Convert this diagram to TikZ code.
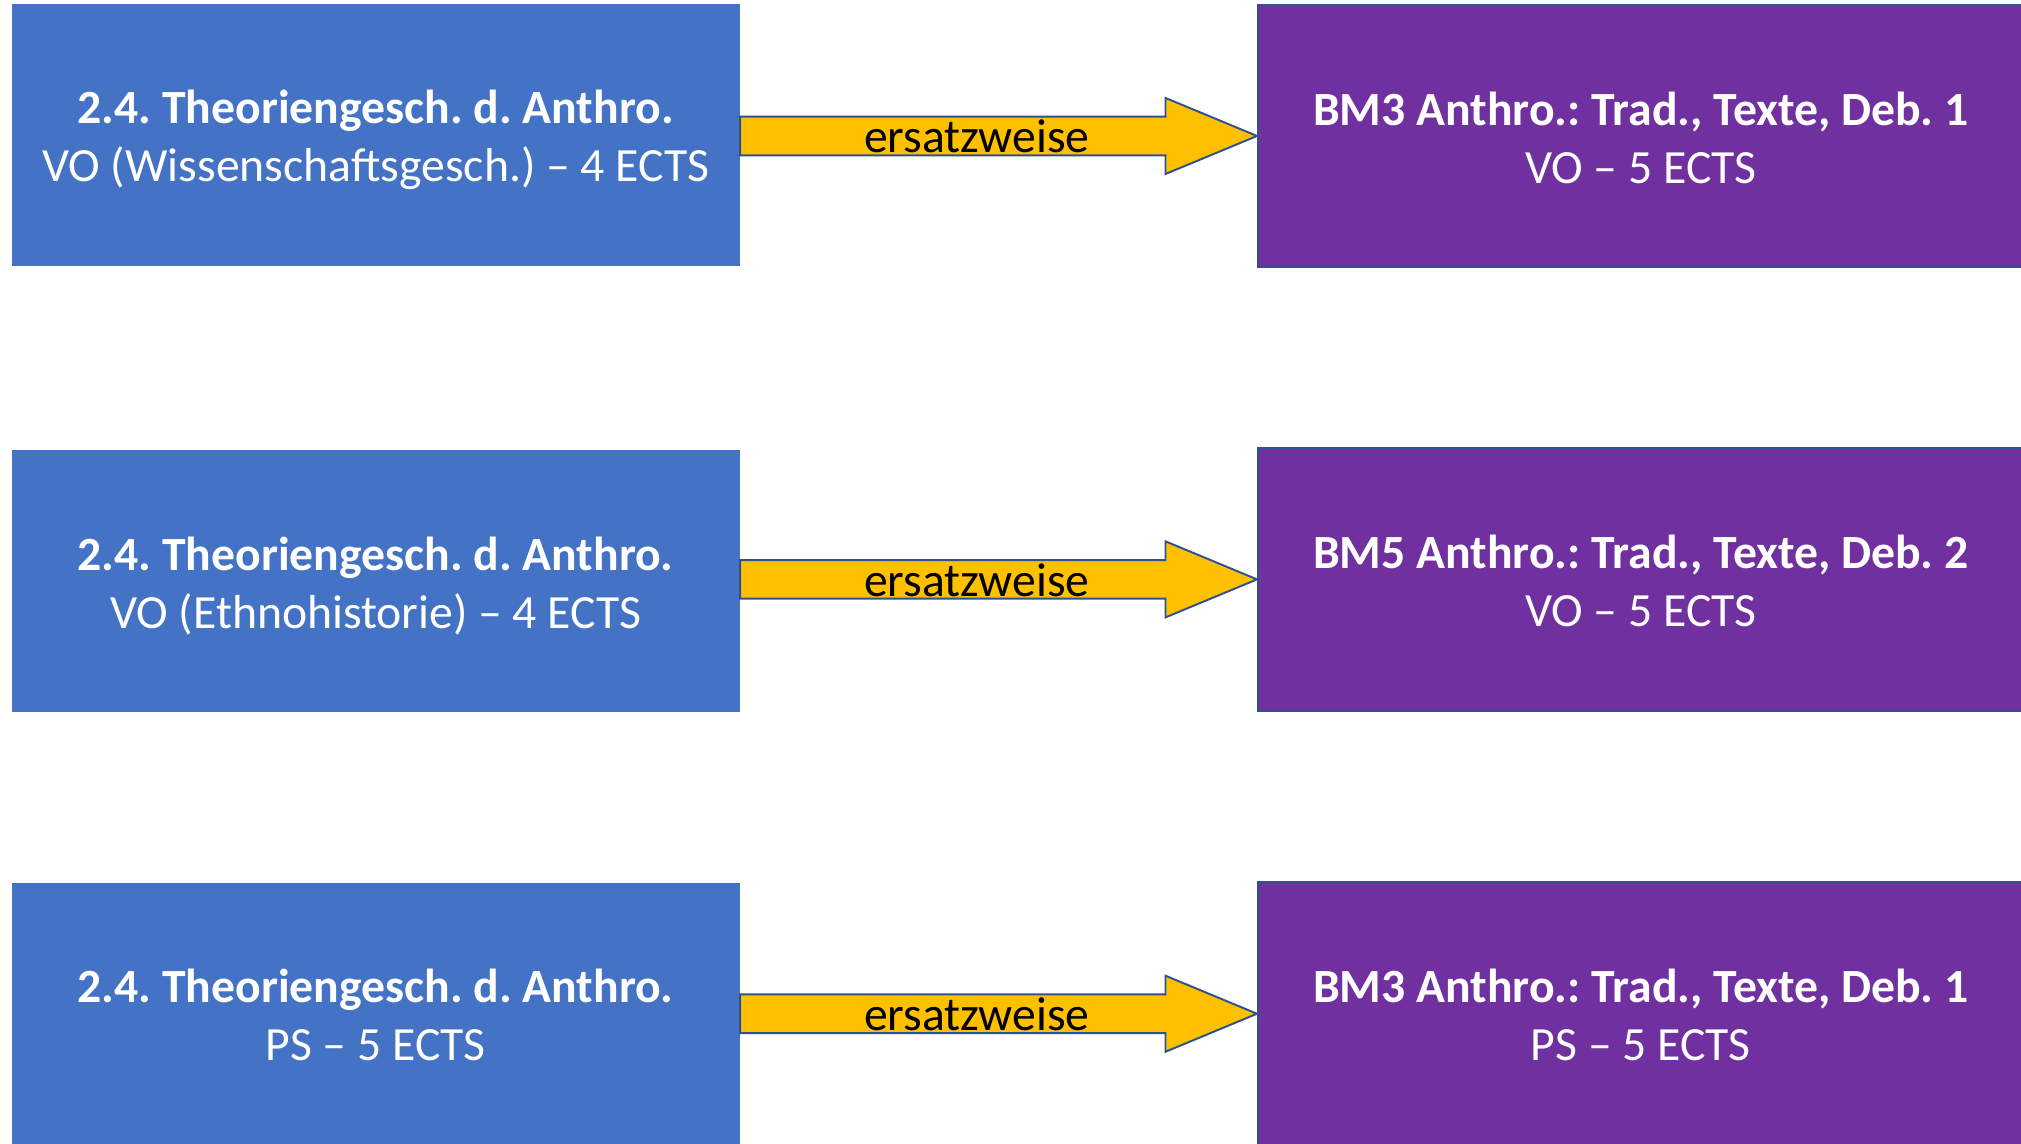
\documentclass[tikz,border=0pt]{standalone}
\usepackage{fontspec}
\setmainfont{Carlito}
\usetikzlibrary{calc}
\definecolor{boxblue}{HTML}{4472C4}
\definecolor{boxpurple}{HTML}{7030A0}
\definecolor{arrowfill}{HTML}{FFC000}
\definecolor{edgeblue}{HTML}{2F528F}
\frenchspacing
\tikzset{
  bigfont/.style={font=\fontsize{37}{45}\selectfont\frenchspacing},
  srcbox/.style={bigfont, fill=boxblue, text=white, align=center, inner sep=0pt,
    minimum width=565pt, minimum height=203pt},
  dstbox/.style={bigfont, fill=boxpurple, draw=edgeblue, line width=1.5pt, text=white,
    align=center, inner sep=0pt, minimum width=594pt, minimum height=204pt},
  arrowshape/.style={fill=arrowfill, draw=edgeblue, line width=1.5pt, line join=miter},
  arrowlabel/.style={bigfont, text=black, anchor=base, inner sep=0pt},
}
\newcommand\ersatzarrow[2]{%
  \draw[arrowshape] ($(#1.east |- #2.west)+(0,-15)$) -- ($(#2.west)+(-71,-15)$)
    -- ($(#2.west)+(-71,-29.5)$) -- (#2.west) -- ($(#2.west)+(-71,29.5)$)
    -- ($(#2.west)+(-71,15)$) -- ($(#1.east |- #2.west)+(0,15)$) -- cycle;
  \node[arrowlabel] at ($($(#1.east |- #2.west)!0.458!(#2.west)$)+(0,13)$) {ersatzweise};
}
\newcommand\topstrut{\rule{0pt}{38pt}}
\newcommand\botstrut{\rule[-10pt]{0pt}{10pt}}
\begin{document}
\begin{tikzpicture}[x=1pt,y=-1pt]
\useasboundingbox (0,0) rectangle (1568,887);
\fill[white] (0,0) rectangle (1568,887);
\node[srcbox] (b1) at (291.5,104.5) {\topstrut\textbf{2.4. Theoriengesch. d. Anthro.}\\VO (Wissenschaftsgesch.) – 4 ECTS\botstrut};
\node[dstbox] (p1) at (1273,105.5) {\topstrut\textbf{BM3 Anthro.: Trad., Texte, Deb. 1}\\VO – 5 ECTS\botstrut};
\node[srcbox] (b2) at (291.5,451) {\topstrut\textbf{2.4. Theoriengesch. d. Anthro.}\\VO (Ethnohistorie) – 4 ECTS\botstrut};
\node[dstbox] (p2) at (1273,449.5) {\topstrut\textbf{BM5 Anthro.: Trad., Texte, Deb. 2}\\VO – 5 ECTS\botstrut};
\node[srcbox] (b3) at (291.5,786.5) {\topstrut\textbf{2.4. Theoriengesch. d. Anthro.}\\PS – 5 ECTS\botstrut};
\node[dstbox] (p3) at (1273,786.5) {\topstrut\textbf{BM3 Anthro.: Trad., Texte, Deb. 1}\\PS – 5 ECTS\botstrut};
\ersatzarrow{b1}{p1}
\ersatzarrow{b2}{p2}
\ersatzarrow{b3}{p3}
\end{tikzpicture}
\end{document}
